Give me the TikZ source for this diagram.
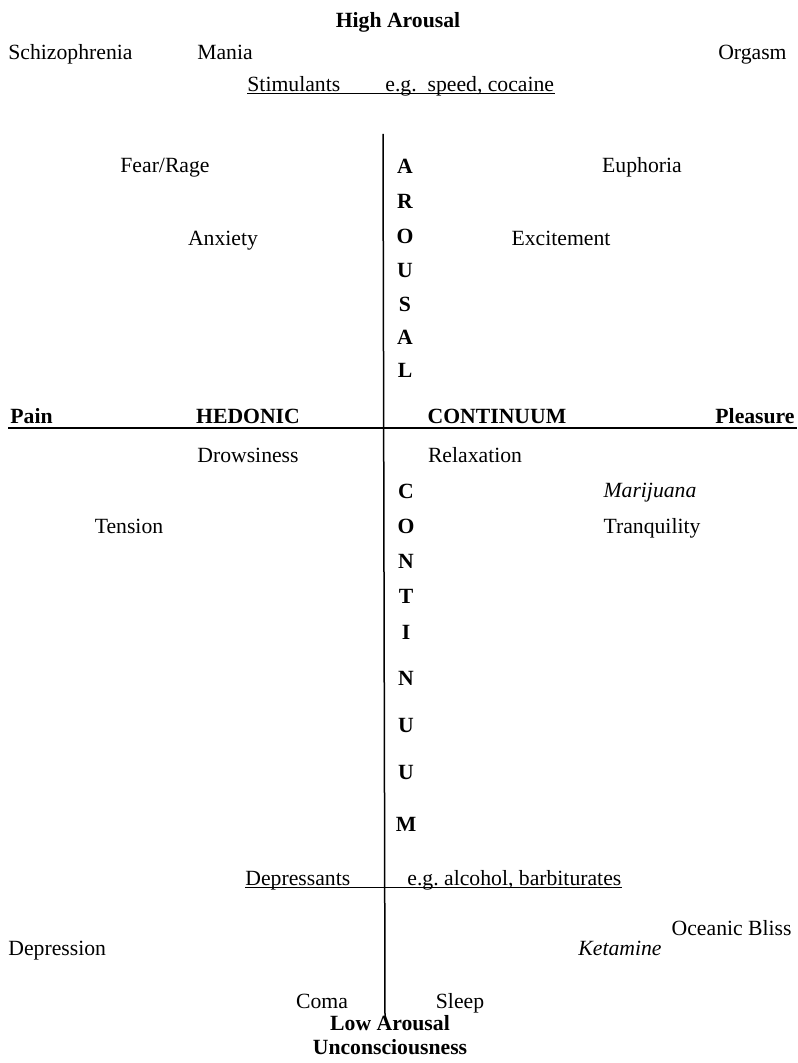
\documentclass[tikz,border=0pt]{standalone}
\usepackage{fontspec}
\setmainfont{Liberation Serif}
\usetikzlibrary{positioning}

\tikzset{
  lbl/.style={inner sep=0pt, text height=7.5pt, text depth=2.2pt, font=\fontsize{10.85}{13}\selectfont},
  hd/.style={lbl, font=\fontsize{10.85}{13}\selectfont\bfseries},
  drug/.style={lbl, font=\fontsize{10.85}{13}\selectfont\itshape},
  axis/.style={line width=0.75pt},
  uline/.style={line width=0.45pt},
}

\begin{document}
\begin{tikzpicture}[x=0.5pt, y=-0.5pt]
\useasboundingbox (0,0) rectangle (797,1063);
% top row
\node (high) at (398,22) [hd] {High Arousal};
\node (schizo) at (8,54) [lbl, anchor=west] {Schizophrenia};
\node (mania) at (225,54) [lbl] {Mania};
\node (orgasm) at (787,54) [lbl, anchor=east] {Orgasm};
\node (stim) at (247,86) [lbl, anchor=west] {Stimulants};
\node (stimeg) at (385,86) [lbl, anchor=west] {e.g.\ \ speed, cocaine};
\draw[uline] ([yshift=-1.2pt]stim.base west) -- ([yshift=-1.2pt]stimeg.base east);
% axes
\coordinate (top) at (383,134);
\coordinate (bot) at (385,1017);
\coordinate (lend) at (8,428);
\coordinate (rend) at (797,428);
\draw[axis] (top) -- (bot);
\draw[axis] (lend) -- (rend);
% upper half
\node (fear) at (165,167) [lbl] {Fear/Rage};
\node (euph) at (642,167) [lbl] {Euphoria};
\node (anx) at (223,240) [lbl] {Anxiety};
\node (exc) at (561,240) [lbl] {Excitement};
\foreach \y/\l in {168/A,203/R,238/O,272/U,306/S,339/A,372/L}
  \node (ar\y) at (405,\y) [hd] {\l};
% hedonic row
\node (pain) at (10,418) [hd, anchor=west] {Pain};
\node (hed) at (248,418) [hd] {HEDONIC};
\node (cont) at (497,418) [hd] {CONTINUUM};
\node (pleas) at (795,418) [hd, anchor=east] {Pleasure};
% lower half
\node (drow) at (248,457) [lbl] {Drowsiness};
\node (relax) at (475,457) [lbl] {Relaxation};
\node (mari) at (650,492) [drug] {Marijuana};
\node (tens) at (129,528) [lbl] {Tension};
\node (tranq) at (652,528) [lbl] {Tranquility};
\foreach \y/\l in {493/C,528/O,563/N,598/T,634/I,680/N,727/U,774/U,826/M}
  \node (co\y) at (406,\y) [hd] {\l};
\node (dep) at (245,880) [lbl, anchor=west] {Depressants};
\node (depeg) at (407,880) [lbl, anchor=west] {e.g.\ alcohol, barbiturates};
\draw[uline] ([yshift=-1.2pt]dep.base west) -- ([yshift=-1.2pt]depeg.base east);
\node (ocean) at (792,930) [lbl, anchor=east] {Oceanic Bliss};
\node (depr) at (8,950) [lbl, anchor=west] {Depression};
\node (ket) at (620,950) [drug] {Ketamine};
% bottom
\node (coma) at (322,1003) [lbl] {Coma};
\node (sleep) at (460,1003) [lbl] {Sleep};
\node (low) at (390,1025) [hd] {Low Arousal};
\node (uncon) at (390,1049) [hd] {Unconsciousness};
\end{tikzpicture}
\end{document}
